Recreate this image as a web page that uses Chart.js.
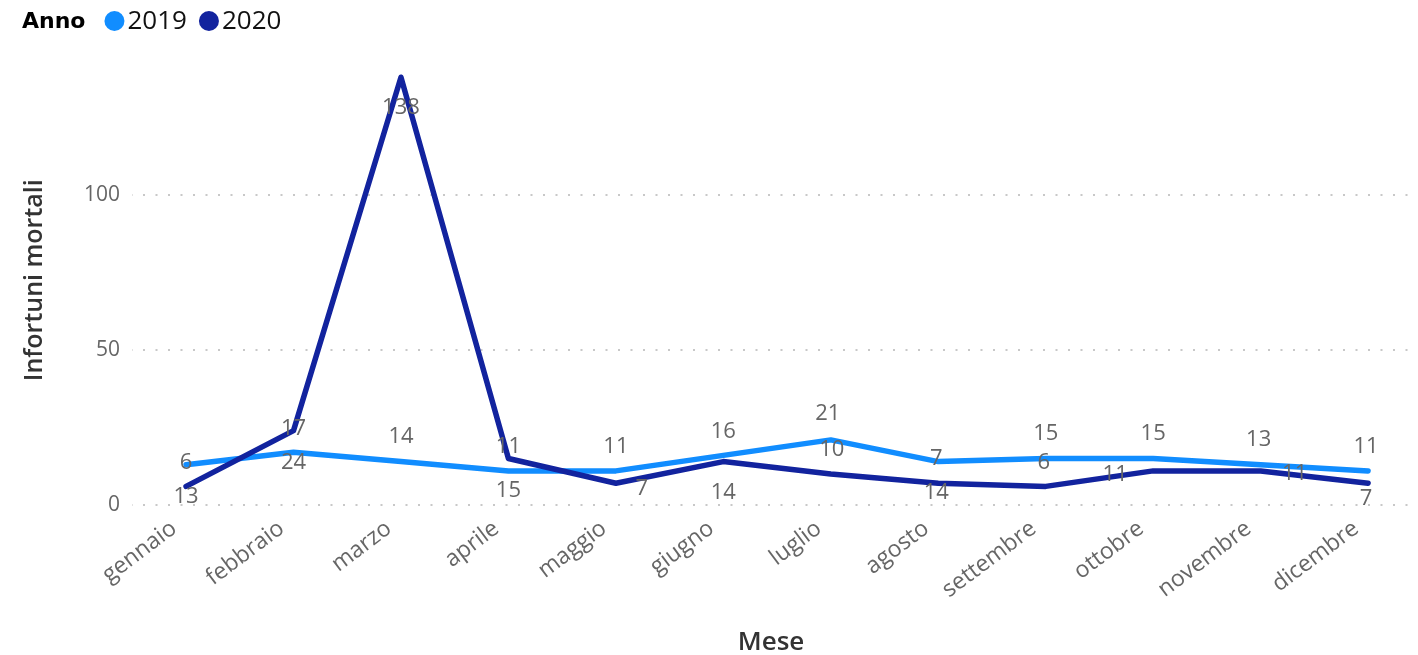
<!DOCTYPE html>
<html><head><meta charset="utf-8">
<script src="https://cdn.jsdelivr.net/npm/chart.js@4"></script>
<style>html,body{margin:0;padding:0;background:#fff;overflow:hidden;}</style>
</head><body>
<canvas id="c" width="1418" height="655" style="width:1418px;height:655px;display:block"></canvas>
<script>
const months = ['gennaio','febbraio','marzo','aprile','maggio','giugno','luglio','agosto','settembre','ottobre','novembre','dicembre'];
const values2019 = [13, 17, 14, 11, 11, 16, 21, 14, 15, 15, 13, 11];
const values2020 = [6, 24, 138, 15, 7, 14, 10, 7, 6, 11, 11, 7];
const yTickValues = [0, 50, 100];
const seriesNames = ['2019', '2020'];
const legendTitle = 'Anno';
const xTitle = 'Mese';
const yTitle = 'Infortuni mortali';

// label placement offsets (px) relative to each point: [dx, dy]
const labelOffsets2019 = [[0,32],[0,-24],[0,-25],[0,-24],[0,-24],[0,-24],[-3,-26],[-2,31],[0,-25],[0,-25],[-2,-25],[-2,-24]];
const labelOffsets2020 = [[0,-24],[0,32],[0,31],[0,32],[26,5],[0,31],[1,-24],[-2,-25],[-2,-24],[-38,4],[34,3],[-2,15]];

const colors = ['#118DFF', '#12239E'];
const FONT = '"Open Sans", "Noto Sans", sans-serif';

const labelPlugin = {
  id: 'pointLabels',
  afterDatasetsDraw(chart) {
    const ctx = chart.ctx;
    ctx.save();
    ctx.font = '22px ' + FONT;
    ctx.fillStyle = '#666666';
    ctx.textAlign = 'center';
    ctx.textBaseline = 'middle';
    const offs = [labelOffsets2019, labelOffsets2020];
    chart.data.datasets.forEach((ds, di) => {
      const meta = chart.getDatasetMeta(di);
      meta.data.forEach((pt, i) => {
        const o = offs[di][i];
        ctx.fillText(String(ds.data[i].y), pt.x + o[0], pt.y + o[1]);
      });
    });
    ctx.restore();
  }
};

const legendPlugin = {
  id: 'topLegend',
  afterDraw(chart) {
    const ctx = chart.ctx;
    ctx.save();
    ctx.textBaseline = 'middle';
    ctx.textAlign = 'left';
    let x = 22, y = 21;
    ctx.font = 'bold 22px "DejaVu Sans", sans-serif';
    ctx.fillStyle = '#000000';
    ctx.fillText(legendTitle, x, y + 1);
    x = 22 + Math.max(ctx.measureText(legendTitle).width, 60) + 19;
    ctx.font = '26px ' + FONT;
    seriesNames.forEach((n, i) => {
      ctx.fillStyle = colors[i];
      ctx.beginPath();
      ctx.arc(x + 10, y, 10, 0, Math.PI * 2);
      ctx.fill();
      ctx.fillStyle = '#111111';
      ctx.fillText(n, x + 23, y + 1);
      x += 23 + ctx.measureText(n).width + 12;
    });
    ctx.restore();
  }
};

new Chart(document.getElementById('c'), {
  type: 'line',
  data: {
    datasets: [
      { label: seriesNames[0], data: months.map((m, i) => ({x: i, y: values2019[i]})), borderColor: colors[0], backgroundColor: colors[0], borderWidth: 5.5, pointRadius: 0, tension: 0, borderJoinStyle: 'round', borderCapStyle: 'round', order: 1 },
      { label: seriesNames[1], data: months.map((m, i) => ({x: i, y: values2020[i]})), borderColor: colors[1], backgroundColor: colors[1], borderWidth: 5.5, pointRadius: 0, tension: 0, borderJoinStyle: 'round', borderCapStyle: 'round', order: 0 }
    ]
  },
  options: {
    responsive: false,
    animation: false,
    layout: { padding: { top: 55.5, left: 0, right: 8, bottom: 0 } },
    plugins: { legend: { display: false }, tooltip: { enabled: false } },
    scales: {
      x: {
        type: 'linear', min: -0.503, max: 11.39,
        afterBuildTicks: s => { s.ticks = months.map((m, i) => ({ value: i })); },
        afterFit: s => { s.height = 150; },
        grid: { display: false, drawTicks: false },
        border: { display: false },
        ticks: { autoSkip: false, minRotation: 37, maxRotation: 37, padding: 10, labelOffset: -12, color: '#666666', font: { family: FONT, size: 23 }, callback: v => months[v] },
        title: { display: true, text: xTitle, color: '#333333', font: { family: FONT, size: 26, weight: '600' }, padding: { top: 0, bottom: -3 } }
      },
      y: {
        min: 0, max: 145,
        afterBuildTicks: s => { s.ticks = yTickValues.map(v => ({ value: v })); },
        afterFit: s => { s.width = 132; },
        grid: { color: '#c8c8c8', lineWidth: 2, drawTicks: false, borderDash: [2, 10.5], borderDashOffset: -11 },
        border: { display: false, dash: [2, 10.5], dashOffset: -11 },
        ticks: { padding: 12, color: '#666666', font: { family: FONT, size: 21 } },
        title: { display: true, text: yTitle, color: '#333333', font: { family: FONT, size: 25, weight: '600' }, padding: { top: 20, bottom: 0 } }
      }
    }
  },
  plugins: [labelPlugin, legendPlugin]
});
</script>
</body></html>
